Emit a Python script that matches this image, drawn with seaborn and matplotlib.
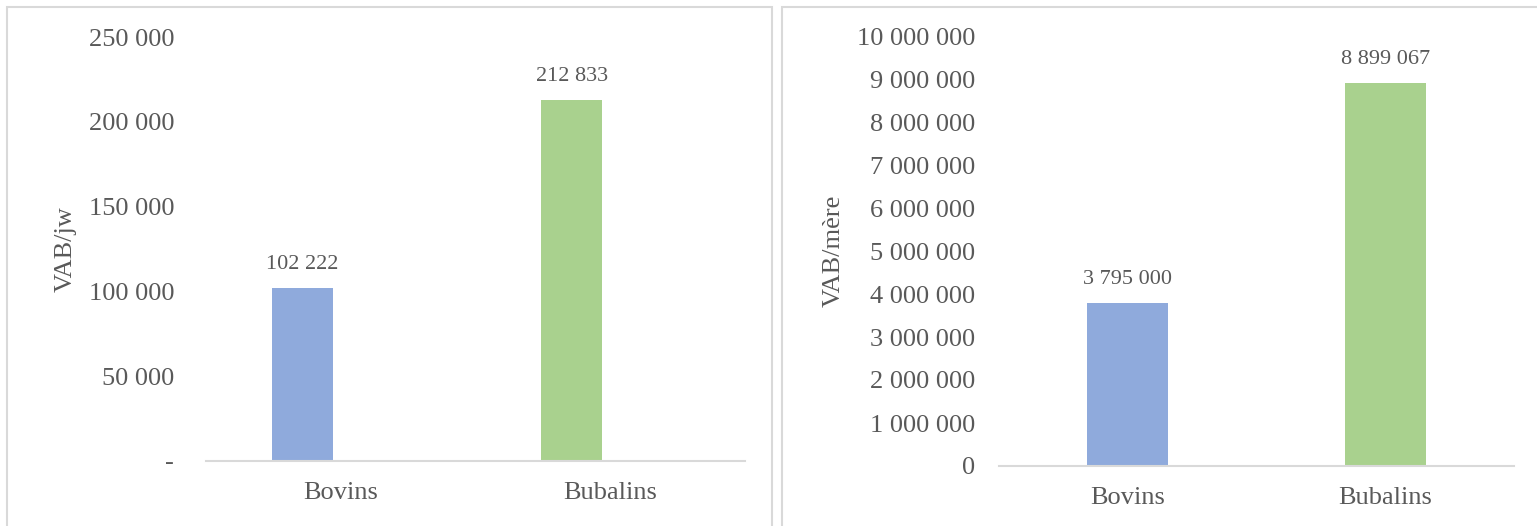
import matplotlib
matplotlib.use("Agg")
import matplotlib.pyplot as plt
from matplotlib.patches import Rectangle
from matplotlib.ticker import FuncFormatter
import seaborn as sns
import pandas as pd

# data
categories = ["Bovins", "Bubalins"]
vab_jw = [102222, 212833]
vab_mere = [3795000, 8899067]
bar_colors = ["#8FAADC", "#A9D18E"]

left_ticks = [0, 50000, 100000, 150000, 200000, 250000]
right_ticks = list(range(0, 10000001, 1000000))

TEXT = "#595959"
GRID = "#D9D9D9"

sns.set_style("white")
plt.rcParams["font.family"] = ["Liberation Serif", "DejaVu Serif"]

W, H = 1537, 526
fig = plt.figure(figsize=(W / 100, H / 100), dpi=100)


def spaced(v, dash_zero=False):
    if v == 0 and dash_zero:
        return "-"
    return f"{v:,.0f}".replace(",", " ")


def px_axes(x0, x1, ytop, ybot):
    return fig.add_axes([x0 / W, 1 - ybot / H, (x1 - x0) / W, (ybot - ytop) / H])


def style(ax, ticks, ymax, dash_zero, ypad, ylabel, label_x):
    for s in ["top", "right", "left"]:
        ax.spines[s].set_visible(False)
    ax.spines["bottom"].set_color(GRID)
    ax.spines["bottom"].set_linewidth(1.5)
    ax.set_ylim(0, ymax)
    ax.set_yticks(ticks)
    ax.yaxis.set_major_formatter(FuncFormatter(lambda v, p: spaced(v, dash_zero)))
    ax.tick_params(axis="y", length=0, pad=ypad, labelsize=19, labelcolor=TEXT)
    ax.tick_params(axis="x", length=0, pad=15, labelsize=19, labelcolor=TEXT)
    ax.set_xlabel("")
    ax.set_ylabel(ylabel, fontsize=19, color=TEXT)
    ax.yaxis.set_label_coords(label_x, 0.5)


# left chart
df1 = pd.DataFrame({"cat": categories, "val": vab_jw})
ax1 = px_axes(206, 745, 37, 461)
sns.barplot(data=df1, x="cat", y="val", hue="cat", palette=bar_colors,
            width=0.226, saturation=1, linewidth=0, legend=False, ax=ax1)
# bars sit a little left of the category centre in the original
ax1.set_xlim(-0.357, 1.643)
ax1.set_xticks([0.143, 1.143])
ax1.set_xticklabels(categories)
style(ax1, left_ticks, 250000, True, 23, "VAB/jw", -0.24)
for cont, v in zip(ax1.containers, vab_jw):
    ax1.bar_label(cont, labels=[spaced(v)], padding=10, fontsize=16, color=TEXT)

# right chart
df2 = pd.DataFrame({"cat": categories, "val": vab_mere})
ax2 = px_axes(999, 1514, 36, 466)
sns.barplot(data=df2, x="cat", y="val", hue="cat", palette=bar_colors,
            width=0.315, saturation=1, linewidth=0, legend=False, ax=ax2)
ax2.set_xlim(-0.5, 1.5)
style(ax2, right_ticks, 10000000, False, 17, "VAB/mère", -0.3)
for cont, v in zip(ax2.containers, vab_mere):
    ax2.bar_label(cont, labels=[spaced(v)], padding=10, fontsize=16, color=TEXT)

# chart area borders
fig.add_artist(Rectangle((7 / W, -0.05), (772 - 7) / W, 1.05 - 7 / H,
                         transform=fig.transFigure, fill=False,
                         edgecolor=GRID, linewidth=1.5))
fig.add_artist(Rectangle((782 / W, -0.05), (1545 - 782) / W, 1.05 - 7 / H,
                         transform=fig.transFigure, fill=False,
                         edgecolor=GRID, linewidth=1.5))

fig.savefig("out.png", dpi=100, facecolor="white")
